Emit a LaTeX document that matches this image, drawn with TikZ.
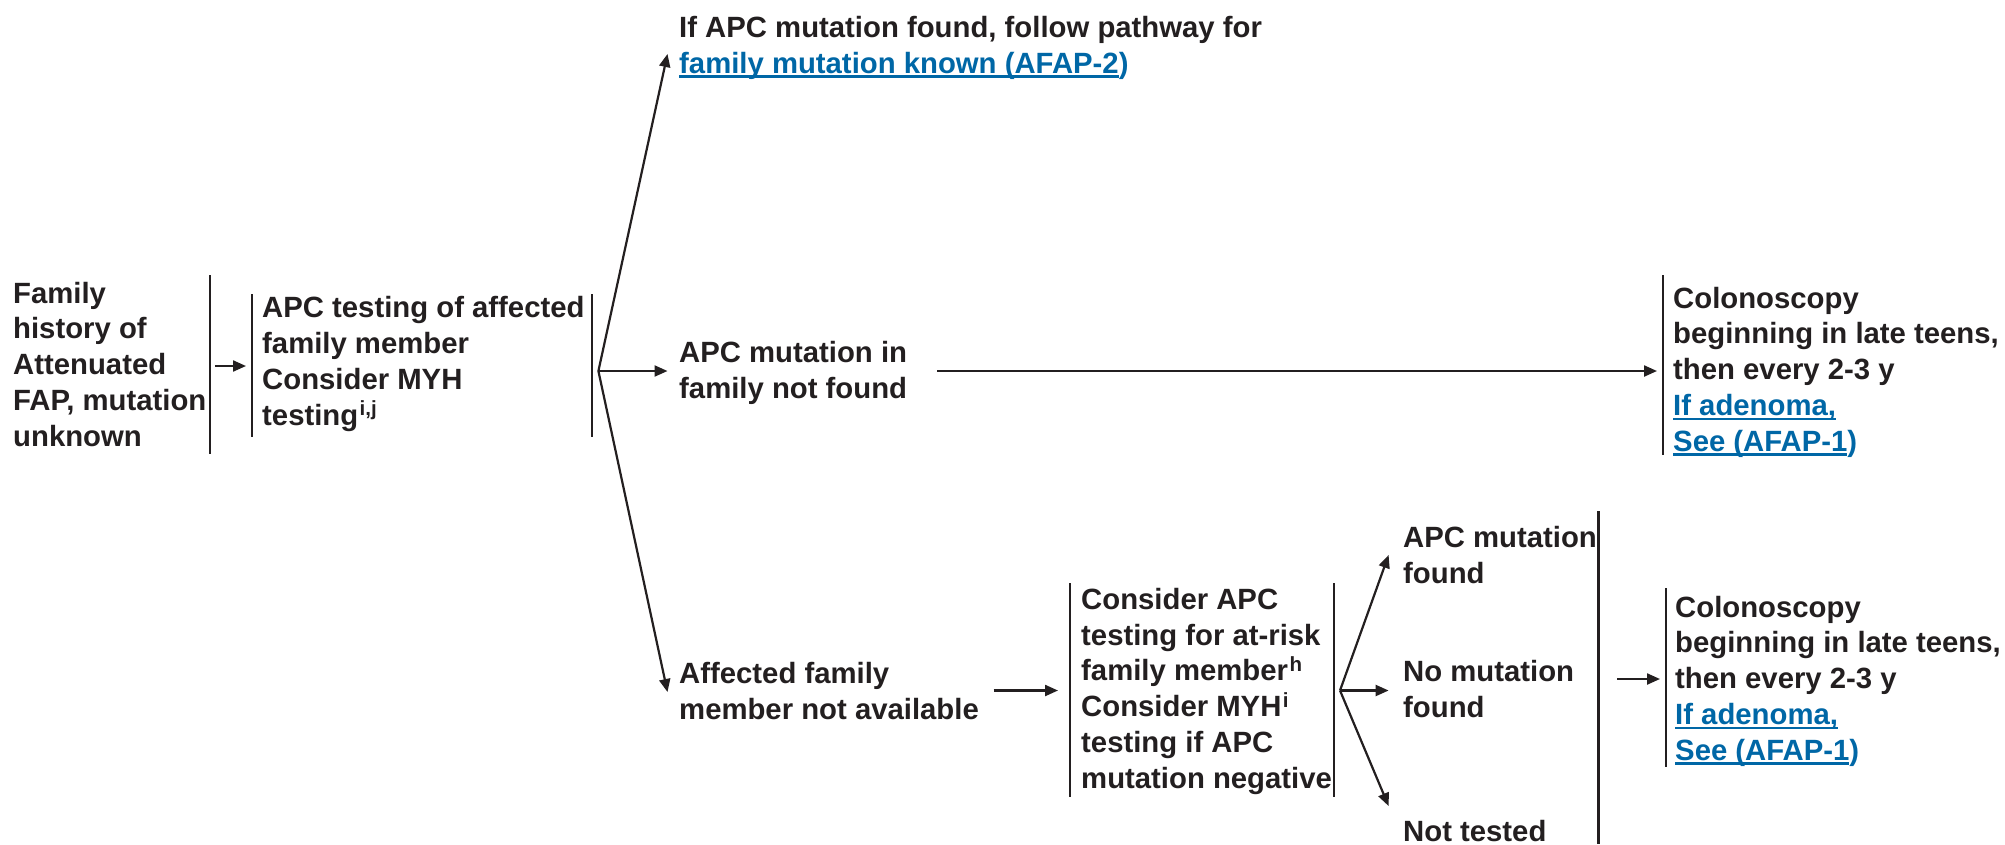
\documentclass[tikz,border=0pt]{standalone}
\usepackage{fontspec}
\setmainfont{Liberation Sans}
\usetikzlibrary{arrows.meta}
\definecolor{ink}{HTML}{231F20}
\definecolor{link}{HTML}{0067A6}
\newlength\lnkwd
% underlined link text
\newcommand\lnk[1]{\settowidth\lnkwd{#1}\rlap{\rule[-4.5pt]{\lnkwd}{2.2pt}}#1}
% footnote marker
\newcommand\fn[1]{\kern1.5pt\textsuperscript{#1}}

\begin{document}
\begin{tikzpicture}[x=1pt,y=-1pt,
  txt/.style={anchor=base west, align=left, inner sep=0pt,
    font=\fontsize{29.3}{35.7}\selectfont\bfseries, text=ink},
  rail/.style={draw=ink, line width=2.2pt},
  arr/.style={draw=ink, line width=2.2pt, -{Triangle[length=13pt,width=11pt]}},
]
\useasboundingbox (0,0) rectangle (2005,844);

% text blocks, placed by the baseline of their last line
\node[txt] (hist) at (13,446) {Family\\history of\\Attenuated\\FAP, mutation\\unknown};
\node[txt] (apct) at (262,425) {APC testing of affected\\family member\\Consider MYH\\testing\fn{i,j}};
\node[txt] (found) at (679,73) {If APC mutation found, follow pathway for\\{\color{link}\lnk{family mutation known (AFAP-2})}};
\node[txt] (notfound) at (679,398) {APC mutation in\\family not found};
\node[txt] (colo1) at (1673,451) {Colonoscopy\\beginning in late teens,\\then every 2-3 y\\{\color{link}\lnk{If adenoma,}}\\{\color{link}\lnk{See (AFAP-1})}};
\node[txt] (notavail) at (679,719) {Affected family\\member not available};
\node[txt] (cons) at (1081,788) {Consider APC\\testing for at-risk\\family member\fn{h}\\Consider MYH\fn{i}\\testing if APC\\mutation negative};
\node[txt] (mfound) at (1403,583) {APC mutation\\found};
\node[txt] (nomut) at (1403,717) {No mutation\\found};
\node[txt] (nott) at (1403,841) {Not tested};
\node[txt] (colo2) at (1675,760) {Colonoscopy\\beginning in late teens,\\then every 2-3 y\\{\color{link}\lnk{If adenoma,}}\\{\color{link}\lnk{See (AFAP-1})}};

% vertical rails
\draw[rail] (209.7,275) -- (209.7,454);
\draw[rail] (252,294) -- (252,437);
\draw[rail] (592,294) -- (592,437);
\draw[rail] (1663,275) -- (1663,455);
\draw[rail] (1070,583) -- (1070,797);
\draw[rail] (1334,583) -- (1334,797);
\draw[rail] (1598.4,511) -- (1598.4,844);
\draw[rail] (1666,588) -- (1666,767);

% junctions and arrow ends
\coordinate (a0) at (214.8,366);
\coordinate (a1) at (246,366);
\coordinate (j1) at (598.4,371);
\coordinate (t1) at (667.5,54);
\coordinate (t2) at (667.5,371);
\coordinate (t3) at (667.5,692);
\coordinate (l0) at (937,371);
\coordinate (l1) at (1657,371);
\coordinate (m0) at (993.5,690.5);
\coordinate (m1) at (1058,690.5);
\coordinate (j2) at (1340,690.5);
\coordinate (u1) at (1388.6,555);
\coordinate (u2) at (1388.6,690.5);
\coordinate (u3) at (1388.6,806);
\coordinate (r0) at (1617,679);
\coordinate (r1) at (1660,679);

% connectors
\draw[arr] (a0) -- (a1);
\draw[arr] (j1) -- (t1);
\draw[arr] (j1) -- (t2);
\draw[arr] (j1) -- (t3);
\draw[arr] (l0) -- (l1);
\draw[arr] (m0) -- (m1);
\draw[arr] (j2) -- (u1);
\draw[arr] (j2) -- (u2);
\draw[arr] (j2) -- (u3);
\draw[arr] (r0) -- (r1);
\end{tikzpicture}
\end{document}
